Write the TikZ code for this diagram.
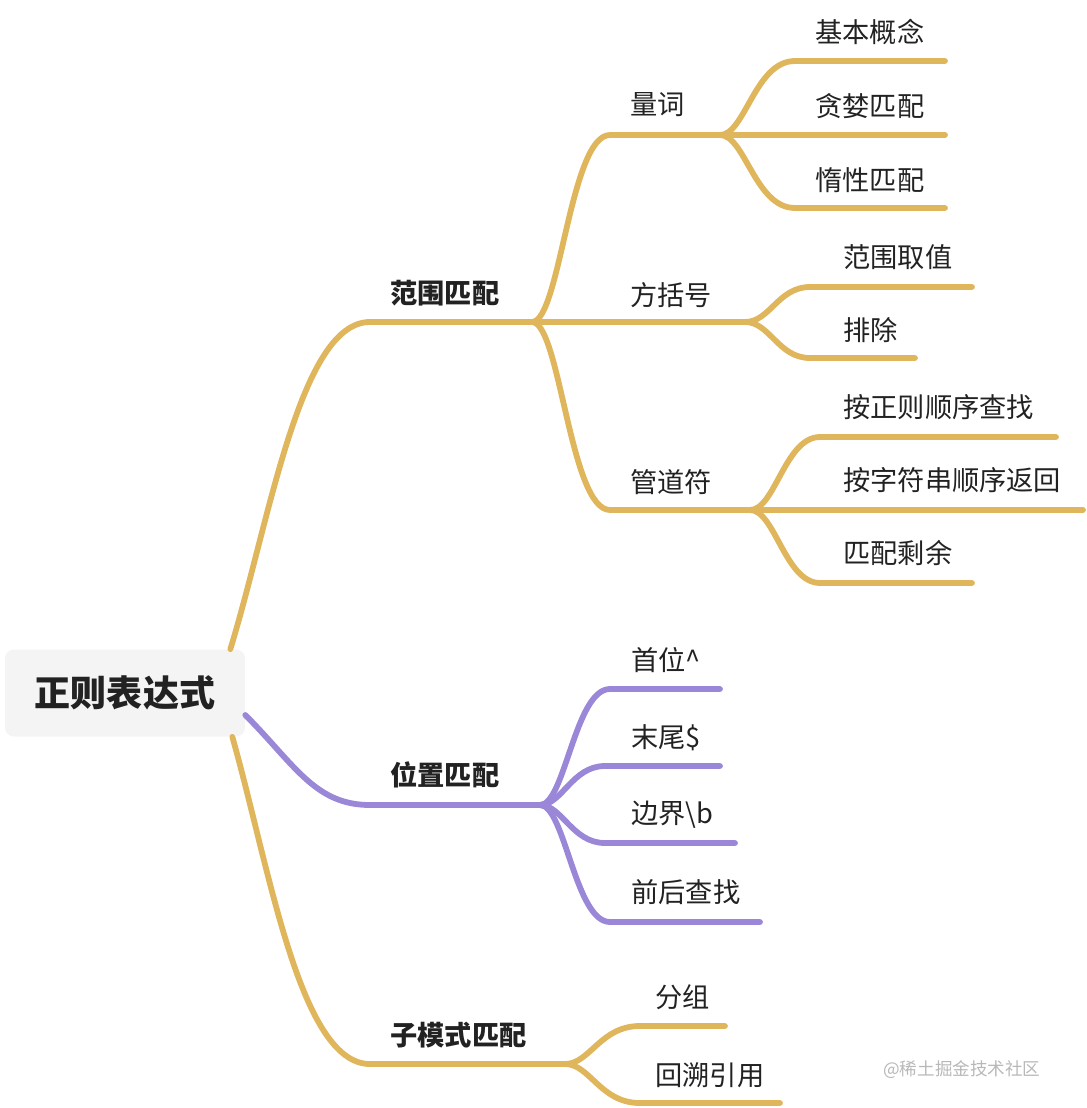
\documentclass[tikz,border=0pt]{standalone}
\usepackage{fontspec}
\setmainfont{Noto Sans CJK SC}
\usepackage{tikz}
\usetikzlibrary{positioning,calc}
\definecolor{gold}{HTML}{E0B65C}
\definecolor{lilac}{HTML}{9A87D8}
\definecolor{rootbg}{HTML}{F4F4F4}
\definecolor{ink}{HTML}{222222}

\begin{document}
\begin{tikzpicture}[
    x=0.02cm, y=-0.02cm,
    root/.style={rectangle, rounded corners=5pt, fill=rootbg,
                 minimum width=4.8cm, minimum height=1.74cm,
                 font=\fontsize{20.5}{24}\selectfont\bfseries, text=ink},
    topic/.style={anchor=west, inner sep=0pt,
                  font=\fontsize{15.5}{18}\selectfont\bfseries, text=ink},
    leaf/.style={anchor=west, inner sep=0pt,
                 font=\fontsize{15.5}{18}\selectfont, text=ink},
    wmark/.style={anchor=west, inner sep=0pt,
                  font=\fontsize{10}{12}\selectfont, text=black!28},
    branch/.style={line width=3.3pt, line cap=round, line join=round},
  ]
    \useasboundingbox (0,0) rectangle (1086,1108);

    \node[root] (root) at (125,693) {正则表达式};

    \coordinate (s1) at ([xshift=-0.3cm]root.north east);
    \coordinate (s2) at ([yshift=-0.44cm]root.east);
    \coordinate (s3) at ([xshift=-0.26cm]root.south east);

    \coordinate (fw)  at (532,322);
    \coordinate (wz)  at (540,805);
    \coordinate (zms) at (565,1064);

    \draw[branch, gold]  (s1) .. controls (270,520) and (300,322) .. (370,322) -- (fw);
    \draw[branch, lilac] (s2) .. controls (295,765) and (315,805) .. (370,805) -- (wz);
    \draw[branch, gold]  (s3) .. controls (270,870) and (300,1064) .. (370,1064) -- (zms);

    \node[topic] (fwpp)  at (390,293)  {范围匹配};
    \node[topic] (wzpp)  at (390,775)  {位置匹配};
    \node[topic] (zmspp) at (390,1035) {子模式匹配};

    \coordinate (lc) at (720,135);
    \coordinate (kh) at (745,322);
    \coordinate (gd) at (750,510);

    \draw[branch, gold] (fw) .. controls (560,322) and (570,135) .. (610,135) -- (lc);
    \draw[branch, gold] (fw) -- (kh);
    \draw[branch, gold] (fw) .. controls (560,322) and (570,510) .. (610,510) -- (gd);

    \node[leaf] (lcn) at (630,105) {量词};
    \node[leaf] (khn) at (630,295) {方括号};
    \node[leaf] (gdn) at (630,482) {管道符};

    \coordinate (lc1) at (945,61);
    \coordinate (lc2) at (945,135);
    \coordinate (lc3) at (945,208);
    \draw[branch, gold] (lc) .. controls (745,135) and (755,61) .. (795,61) -- (lc1);
    \draw[branch, gold] (lc) -- (lc2);
    \draw[branch, gold] (lc) .. controls (745,135) and (755,208) .. (795,208) -- (lc3);
    \node[leaf] (jbgn) at (815,32)  {基本概念};
    \node[leaf] (tlpp) at (815,106) {贪婪匹配};
    \node[leaf] (dxpp) at (815,180) {惰性匹配};

    \coordinate (kh1) at (972,287);
    \coordinate (kh2) at (915,358);
    \draw[branch, gold] (kh) .. controls (770,322) and (778,287) .. (810,287) -- (kh1);
    \draw[branch, gold] (kh) .. controls (770,322) and (778,358) .. (810,358) -- (kh2);
    \node[leaf] (fwqz) at (843,257) {范围取值};
    \node[leaf] (pc)   at (843,330) {排除};

    \coordinate (gd1) at (1056,437);
    \coordinate (gd2) at (1083,510);
    \coordinate (gd3) at (972,583);
    \draw[branch, gold] (gd) .. controls (775,510) and (785,437) .. (820,437) -- (gd1);
    \draw[branch, gold] (gd) -- (gd2);
    \draw[branch, gold] (gd) .. controls (775,510) and (785,583) .. (820,583) -- (gd3);
    \node[leaf] (azz) at (843,407) {按正则顺序查找};
    \node[leaf] (azf) at (843,480) {按字符串顺序返回};
    \node[leaf] (ppsy) at (843,553) {匹配剩余};

    \coordinate (wz1) at (720,689);
    \coordinate (wz2) at (720,766);
    \coordinate (wz3) at (735,843);
    \coordinate (wz4) at (760,922);
    \draw[branch, lilac] (wz) .. controls (565,805) and (575,689) .. (610,689) -- (wz1);
    \draw[branch, lilac] (wz) .. controls (562,805) and (572,766) .. (605,766) -- (wz2);
    \draw[branch, lilac] (wz) .. controls (562,805) and (572,843) .. (605,843) -- (wz3);
    \draw[branch, lilac] (wz) .. controls (565,805) and (575,922) .. (610,922) -- (wz4);
    \node[leaf] (sw) at (631,660) {首位\^{}};
    \node[leaf] (mw) at (631,738) {末尾\$};
    \node[leaf] (bj) at (631,815) {边界\textbackslash b};
    \node[leaf] (qh) at (631,892) {前后查找};

    \coordinate (zms1) at (725,1026);
    \coordinate (zms2) at (780,1103);
    \draw[branch, gold] (zms) .. controls (590,1064) and (600,1026) .. (640,1026) -- (zms1);
    \draw[branch, gold] (zms) .. controls (590,1064) and (600,1103) .. (640,1103) -- (zms2);
    \node[leaf] (fz)   at (655,997)  {分组};
    \node[leaf] (hsyy) at (655,1075) {回溯引用};

    \node[wmark] (wm) at (883,1070) {@稀土掘金技术社区};
\end{tikzpicture}
\end{document}
